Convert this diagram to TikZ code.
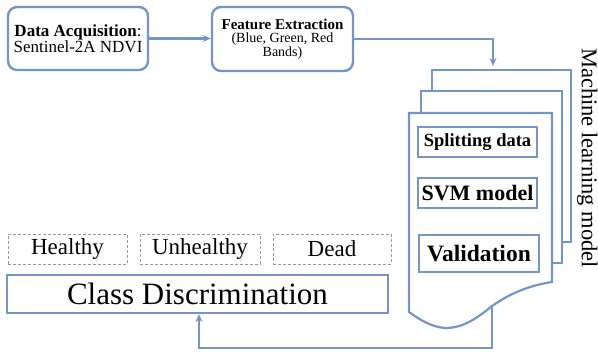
\documentclass[tikz,border=0pt]{standalone}
\usepackage{fontspec}
\setmainfont{Liberation Serif}
\usetikzlibrary{arrows.meta}
\definecolor{bl}{RGB}{116,148,202}
\definecolor{dg}{RGB}{150,152,162}
\tikzset{
  rbox/.style={draw=bl, line width=2.4pt, rounded corners=9pt, fill=white, align=center, inner sep=0pt},
  sbox/.style={draw=bl, line width=2.2pt, fill=white, align=center, inner sep=0pt},
  dbox/.style={draw=dg, line width=1pt, dash pattern=on 3pt off 2pt, align=center, inner sep=0pt},
  conn/.style={draw=bl, line width=2.2pt},
  arr/.style={conn, -{Stealth[length=8pt,width=7pt]}},
  doc/.style={draw=bl, line width=2.2pt, fill=white},
}
\begin{document}
\begin{tikzpicture}[x=1pt,y=-1pt]
\useasboundingbox (0,0) rectangle (598,356);
% top boxes
\node[rbox, minimum width=140pt, minimum height=63pt] (acq) at (78,38.5)
  {\fontsize{17}{19}\selectfont\textbf{Data Acquisition}:\\\fontsize{17}{19}\selectfont Sentinel-2A NDVI};
\node[rbox, minimum width=141pt, minimum height=64pt] (fe) at (282.5,39)
  {\fontsize{15}{17}\selectfont\textbf{Feature Extraction}\\[1pt]\fontsize{14}{16.5}\selectfont(Blue, Green, Red\\\fontsize{14}{16.5}\selectfont Bands)};
\draw[arr] (acq.east) -- (fe.west |- acq.east);
% stacked documents
\draw[doc] (432,70) rectangle (571,242);
\draw[doc] (421,91) rectangle (562,263);
\draw[doc] (409,113) -- (552,113) -- (552,282)
  .. controls (532,285) and (512,292) .. (492,306)
  .. controls (475,320) and (462,328) .. (445,328)
  .. controls (432,327) and (420,320) .. (409,312) -- cycle;
\coordinate (mlin) at (493,66);
\coordinate (mlout) at (492,306);
\draw[arr] (fe.east) -- (493,39) -- (mlin);
% inner boxes
\node[sbox, minimum width=119pt, minimum height=30pt] (split) at (477.5,142)
  {\fontsize{18.5}{20}\selectfont\textbf{Splitting data}};
\node[sbox, minimum width=119pt, minimum height=30pt] (svm) at (477.5,193)
  {\fontsize{22}{24}\selectfont\textbf{SVM model}};
\node[sbox, minimum width=120pt, minimum height=37pt] (val) at (479,253.5)
  {\fontsize{23.5}{25}\selectfont\textbf{Validation}};
% side label
\node[rotate=-90, inner sep=0pt, text height=15pt, text depth=5pt, anchor=north] (mltext) at (597,158)
  {\fontsize{22.5}{24}\selectfont Machine learning model};
% classes
\node[dbox, minimum width=119pt, minimum height=30pt] (healthy) at (67.5,249)
  {\fontsize{23}{24}\selectfont Healthy};
\node[dbox, minimum width=120pt, minimum height=30pt] (unhealthy) at (200,249)
  {\fontsize{23}{24}\selectfont Unhealthy};
\node[dbox, minimum width=118pt, minimum height=30pt] (dead) at (332,249)
  {\fontsize{23}{24}\selectfont Dead};
\node[sbox, minimum width=381pt, minimum height=38pt] (cd) at (197.5,294)
  {\fontsize{31}{32}\selectfont Class Discrimination};
\draw[arr] (mlout) -- (492,348) -| (cd.south -| 199,0);
\end{tikzpicture}
\end{document}
